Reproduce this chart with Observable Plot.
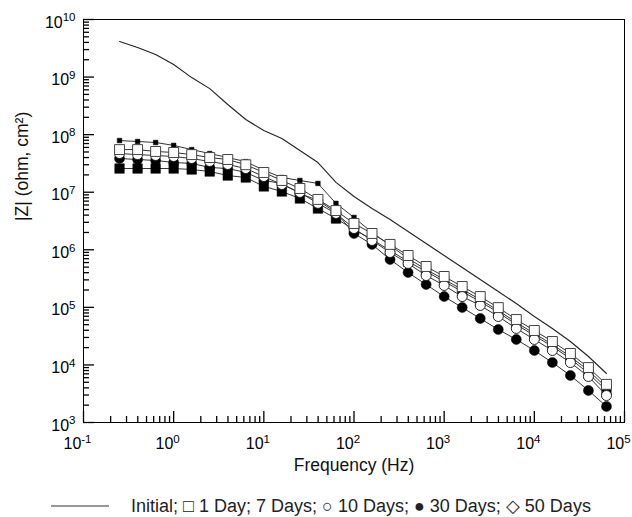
<!DOCTYPE html>
<html><head><meta charset="utf-8">
<script src="https://cdn.jsdelivr.net/npm/d3@7"></script>
<script src="https://cdn.jsdelivr.net/npm/@observablehq/plot@0.6"></script>
<style>
body{margin:0;background:#fff;font-family:"Liberation Sans",Arial,sans-serif;}
#chart svg{font-family:"Liberation Sans",Arial,sans-serif !important;font-size:16px !important;}
#legend{height:37px;display:flex;justify-content:center;align-items:flex-start;padding-left:10px;box-sizing:border-box;font-size:18px;color:#222;}
#legend span{line-height:20px;margin-top:16px;white-space:nowrap;}
#legend svg{margin-top:25px;}
</style></head><body>
<div id="chart"></div>
<div id="legend"><svg width="58" height="2"><line x1="0" x2="58" y1="1" y2="1" stroke="#333" stroke-width="1.2"/></svg><span style="margin-left:22px">Initial; □ 1 Day; 7 Days; ○ 10 Days; ● 30 Days; ◇ 50 Days</span></div>
<script>
const freq = [0.251,0.398,0.631,1.0,1.585,2.512,3.981,6.31,10,15.85,25.12,39.81,63.1,100,158.5,251.2,398.1,631,1000,1585,2512,3981,6310,10000,15850,25120,39810,63100];

const initial = [4.15e9,3.27e9,2.47e9,1.65e9,9.8e8,6.3e8,3.34e8,1.83e8,1.18e8,8.57e7,5.31e7,3.28e7,1.48e7,8.41e6,5.21e6,3.36e6,2.08e6,1.29e6,7.96e5,4.92e5,3.05e5,1.88e5,1.17e5,6.93e4,4.30e4,2.55e4,1.40e4,7.1e3];
const day1 = [5.5e7,5.5e7,5.1e7,4.9e7,4.5e7,4.0e7,3.7e7,3.0e7,2.2e7,1.6e7,1.16e7,7.5e6,4.8e6,2.86e6,1.92e6,1.24e6,7.96e5,5.13e5,3.44e5,2.30e5,1.54e5,9.9e4,6.15e4,3.96e4,2.55e4,1.58e4,9.0e3,4.6e3];
const day7 = [7.9e7,7.6e7,7.3e7,6.5e7,5.5e7,4.7e7,4.0e7,3.4e7,2.4e7,1.8e7,1.6e7,1.42e7,6.4e6,3.64e6,2.0e6,1.19e6,7.06e5,4.54e5,3.05e5,2.04e5,1.37e5,8.8e4,5.46e4,3.52e4,2.26e4,1.40e4,8.0e3,4.06e3];
const day10 = [4.7e7,4.5e7,4.34e7,4.17e7,3.85e7,3.41e7,3.03e7,2.58e7,1.87e7,1.36e7,9.9e6,6.4e6,4.27e6,2.34e6,1.45e6,8.97e5,5.78e5,3.57e5,2.40e5,1.54e5,1.08e5,6.93e4,4.30e4,2.77e4,1.78e4,1.10e4,6.3e3,2.94e3];
const day30 = [3.85e7,3.7e7,3.56e7,3.28e7,3.16e7,2.69e7,2.58e7,2.2e7,1.6e7,1.42e7,9.5e6,7.18e6,4.45e6,1.92e6,1.24e6,6.78e5,4.03e5,2.49e5,1.54e5,9.94e4,6.40e4,4.12e4,2.77e4,1.78e4,1.10e4,6.55e3,3.6e3,1.9e3];
const day50 = [2.58e7,2.58e7,2.58e7,2.58e7,2.48e7,2.29e7,1.95e7,1.8e7,1.26e7,1.03e7,7.78e6,5.21e6,3.49e6,2.25e6,1.51e6,9.71e5,6.25e5,4.20e5,2.81e5,1.88e5,1.26e5,8.15e4,5.04e4,3.24e4,2.09e4,1.29e4,7.1e3,3.6e3];

const xMajor = [0.1,1,10,100,1000,10000,100000];
const yMajor = [1e3,1e4,1e5,1e6,1e7,1e8,1e9,1e10];
const xLabels = ["10^-1","10^0","10^1","10^2","10^3","10^4","10^5"];
const yLabels = ["10^3","10^4","10^5","10^6","10^7","10^8","10^9","10^10"];
const mult = [2,3,4,5,6,7,8,9];
const xMinor = xMajor.slice(0,-1).flatMap(d => mult.map(m => d*m));
const yMinor = yMajor.slice(0,-1).flatMap(d => mult.map(m => d*m));

const W = 632, H = 480, ML = 83, MR = 8, MT = 19, MB = 58;
const frameW = W - ML - MR, frameH = H - MT - MB;

const rowsOf = v => freq.map((f,i) => ({f, z: v[i]}));
const lineColor = "#333";

const chart = Plot.plot({
  width: W, height: H,
  marginLeft: ML, marginRight: MR, marginTop: MT, marginBottom: MB,
  x: {type: "log", domain: [0.1, 1e5]},
  y: {type: "log", domain: [1e3, 1e10]},
  marks: [
    Plot.tickX(xMinor, {x: d => d, insetTop: frameH - 6, stroke: "black", strokeWidth: 1.3}),
    Plot.tickX(xMajor, {x: d => d, insetTop: frameH - 11, stroke: "black", strokeWidth: 1.3}),
    Plot.tickY(yMinor, {y: d => d, insetRight: frameW - 6, stroke: "black", strokeWidth: 1.3}),
    Plot.tickY(yMajor, {y: d => d, insetRight: frameW - 11, stroke: "black", strokeWidth: 1.3}),
    Plot.axisX(xMajor, {anchor: "bottom", tickSize: 0, tickPadding: 15, dx: -6, tickFormat: d => xLabels[xMajor.indexOf(d)],
      label: null, fontSize: 16}),
    Plot.axisY(yMajor, {anchor: "left", tickSize: 0, tickPadding: 8, dy: 3, tickFormat: d => yLabels[yMajor.indexOf(d)],
      label: null, fontSize: 16}),
    Plot.text(["Frequency (Hz)"], {frameAnchor: "bottom", dy: 48, text: d => d, fontSize: 17.5, fill: "#111"}),
    Plot.text(["|Z| (ohm, cm²)"], {frameAnchor: "left", dx: -61, rotate: -90, text: d => d, fontSize: 17.5, fill: "#111"}),
    Plot.frame(),
    Plot.line(rowsOf(initial), {x: "f", y: "z", stroke: "#222", strokeWidth: 1.1}),
    Plot.line(rowsOf(day50), {x: "f", y: "z", stroke: lineColor, strokeWidth: 1}),
    Plot.dot(rowsOf(day50), {x: "f", y: "z", symbol: "square", r: 5.4, fill: "black", stroke: "black", strokeWidth: 0.5}),
    Plot.line(rowsOf(day30), {x: "f", y: "z", stroke: lineColor, strokeWidth: 1}),
    Plot.dot(rowsOf(day30), {x: "f", y: "z", symbol: "circle", r: 5, fill: "black", stroke: "black", strokeWidth: 0.5}),
    Plot.line(rowsOf(day7), {x: "f", y: "z", stroke: lineColor, strokeWidth: 1}),
    Plot.dot(rowsOf(day7), {x: "f", y: "z", symbol: "square", r: 2.6, fill: "black", stroke: "black", strokeWidth: 0.5}),
    Plot.line(rowsOf(day10), {x: "f", y: "z", stroke: lineColor, strokeWidth: 1}),
    Plot.dot(rowsOf(day10), {x: "f", y: "z", symbol: "circle", r: 5, fill: "white", stroke: "#222", strokeWidth: 1}),
    Plot.line(rowsOf(day1), {x: "f", y: "z", stroke: lineColor, strokeWidth: 1}),
    Plot.dot(rowsOf(day1), {x: "f", y: "z", symbol: "square", r: 5.6, fill: "white", stroke: "#444", strokeWidth: 1})
  ]
});

const NS = "http://www.w3.org/2000/svg";
// superscript exponents on tick labels
chart.querySelectorAll('g[aria-label$="tick label"] text').forEach(t => {
  const m = t.textContent.match(/^10\^(.*)$/);
  if (!m) return;
  t.textContent = "";
  const a = document.createElementNS(NS, "tspan"); a.textContent = "10";
  const b = document.createElementNS(NS, "tspan"); b.textContent = m[1];
  b.setAttribute("dy", "-0.55em"); b.setAttribute("font-size", "0.72em");
  t.append(a, b);
});
document.getElementById("chart").append(chart);
</script>
</body></html>
